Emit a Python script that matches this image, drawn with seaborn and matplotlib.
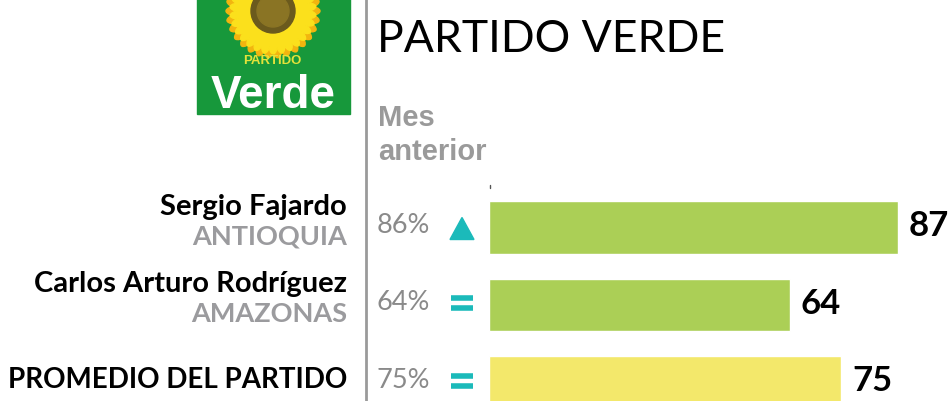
import matplotlib
matplotlib.use("Agg")
import matplotlib.pyplot as plt
import matplotlib.transforms as mtransforms
from matplotlib.patches import Rectangle, Ellipse, Circle, Polygon
import numpy as np
import seaborn as sns

# data
candidates = ["Sergio Fajardo", "Carlos Arturo Rodríguez", "PROMEDIO DEL PARTIDO"]
regions = ["ANTIOQUIA", "AMAZONAS", ""]
current = [87, 64, 75]
previous = ["86%", "64%", "75%"]
trend = ["up", "same", "same"]
bar_colors = ["#abcf56", "#abcf56", "#f3e86b"]

W, H = 952, 402
sns.set_theme(style="white")
plt.rcParams["font.family"] = ["Lato", "DejaVu Sans"]

fig = plt.figure(figsize=(W / 100, H / 100), dpi=100)

# background axes in pixel coordinates
bg = fig.add_axes([0, 0, 1, 1])
bg.set_xlim(0, W)
bg.set_ylim(H, 0)
bg.axis("off")

# logo
bg.add_patch(Rectangle((197, 0), 153, 115, color="#17983b", zorder=1))
cx, cy = 273, 12
for k, a in enumerate(np.linspace(0, 2 * np.pi, 30, endpoint=False)):
    bg.add_patch(Ellipse((cx + 34 * np.cos(a), cy + 34 * np.sin(a)), 26, 10,
                         angle=np.degrees(a), color="#f2b50f", zorder=2))
for k, a in enumerate(np.linspace(0, 2 * np.pi, 30, endpoint=False) + 0.1):
    bg.add_patch(Ellipse((cx + 31 * np.cos(a), cy + 31 * np.sin(a)), 24, 9,
                         angle=np.degrees(a), color="#fbe01c", zorder=2))
bg.add_patch(Circle((cx, cy), 22, color="#6b5a1d", zorder=3))
bg.add_patch(Circle((cx, cy), 16, color="#8a7424", zorder=3))
bg.text(272, 61, "PARTIDO", color="#e4e23a", fontsize=9.5, fontweight="bold",
        family=["Liberation Sans"], ha="center", va="center", zorder=4)
bg.text(273, 108, "Verde", color="white", fontsize=33, fontweight="bold",
        family=["Liberation Sans"], ha="center", va="baseline", zorder=4)

# divider and header
bg.plot([366, 366], [0, H], color="#9a9a9a", lw=2, solid_capstyle="butt")
bg.text(377, 39, "PARTIDO VERDE", fontsize=32, color="black",
        ha="left", va="center")
bg.text(378, 118, "Mes", fontsize=21, fontweight="bold", color="#9a9a9a",
        family=["Liberation Sans"], ha="left", va="center")
bg.text(378, 152, "anterior", fontsize=21, fontweight="bold", color="#9a9a9a",
        family=["Liberation Sans"], ha="left", va="center")
bg.plot([490, 490], [186, 189], color="#555555", lw=1)

# bars
ax = fig.add_axes([489 / W, 0, (W - 489) / W, 1])
ax.patch.set_alpha(0)
sns.barplot(x=current, y=candidates, hue=candidates, palette=bar_colors,
            orient="h", width=0.68, saturation=1, legend=False, ax=ax)
step = 77.5
ax.set_xlim(0, (W - 489) / 4.696)
ax.set_ylim(2 + (H - 383.5) / step, -228.5 / step)
ax.axis("off")

for i, v in enumerate(current):
    ax.text(v + 2.3, i - 0.03, str(v), fontsize=25, fontweight="bold",
            color="black", ha="left", va="center", clip_on=False)

row = mtransforms.blended_transform_factory(bg.transData, ax.transData)
for i, (name, reg) in enumerate(zip(candidates, regions)):
    if reg:
        ax.text(347, i - 22 / step, name, transform=row, fontsize=21,
                fontweight="bold", color="black", ha="right", va="center",
                clip_on=False)
        ax.text(347, i + 8 / step, reg, transform=row, fontsize=19.5,
                fontweight="bold", color="#9b9b9e", ha="right", va="center",
                clip_on=False)
    else:
        ax.text(347, i - 4 / step, name, transform=row, fontsize=20,
                fontweight="bold", color="black", ha="right", va="center",
                clip_on=False)
    ax.text(377, i - 3 / step, previous[i], transform=row, fontsize=19.5,
            color="#8a8a8a", ha="left", va="center", clip_on=False)
    if trend[i] == "up":
        tri = [(450, i + 12 / step), (474, i + 12 / step), (462, i - 10 / step)]
        ax.add_patch(Polygon(tri, closed=True, color="#1bbaba", transform=row,
                             clip_on=False))
    else:
        for d in (-5, 5):
            ax.plot([451, 473], [i + (d - 2) / step] * 2, transform=row,
                    color="#1bbaba", lw=4, solid_capstyle="butt", clip_on=False)

fig.savefig("out.png", dpi=100)
